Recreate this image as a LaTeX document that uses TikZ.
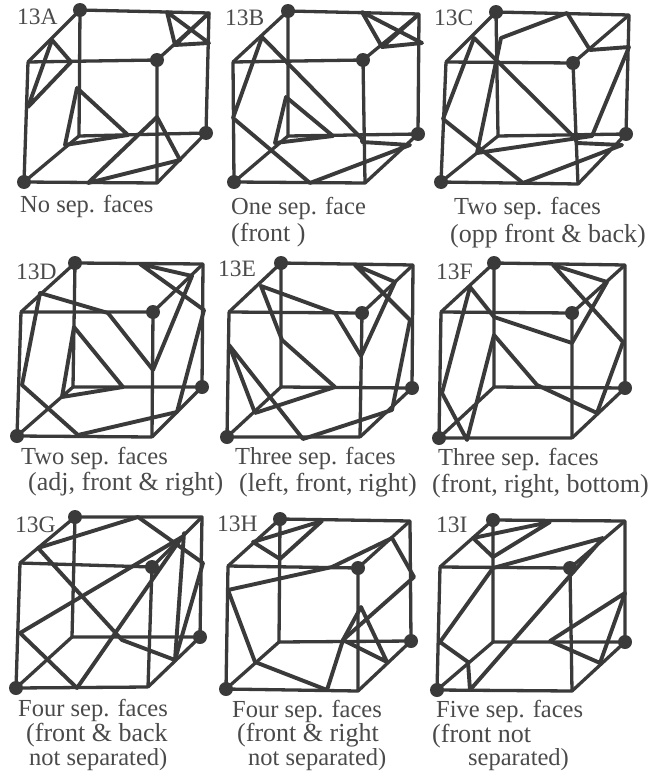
\documentclass[tikz,border=0pt]{standalone}
\usepackage{fontspec}
\setmainfont{Liberation Serif}
\usepackage{xcolor}
\usepackage{tikz}
\definecolor{ink}{HTML}{3A3A3A}
\definecolor{printtext}{HTML}{4A4A4A}
% back top left, back top right, front top left, front top right,
% back bottom left, back bottom right, front bottom left, front bottom right
\newcommand{\cubeframe}[8]{%
  \draw[frameline] (#1) -- (#2) -- (#6) -- (#5) -- cycle;
  \draw[frameline] (#3) -- (#4) -- (#8) -- (#7) -- cycle;
  \draw[frameline] (#1) -- (#3);
  \draw[frameline] (#2) -- (#4);
  \draw[frameline] (#5) -- (#7);
  \draw[frameline] (#6) -- (#8);
  \fill[ink] (#1) circle (7);
  \fill[ink] (#4) circle (7);
  \fill[ink] (#6) circle (7);
  \fill[ink] (#7) circle (7);
}
\begin{document}
\begin{tikzpicture}[
  x=1pt,y=-1pt,
  text=printtext,
  frameline/.style={draw=ink,line width=3.3pt,line join=round},
  facet/.style={draw=ink,line width=3.9pt,line join=round,line cap=round},
  lab/.style={anchor=base west,inner sep=0pt,font=\fontsize{23.5}{26}\selectfont},
  capt/.style={lab,font=\fontsize{24.5}{26}\selectfont},
  subcapt/.style={lab,font=\fontsize{26}{28}\selectfont}
]
\useasboundingbox (0,0) rectangle (666,771);

% 13A
\cubeframe{80,10}{209,13}{28,62}{157,60}{79,136}{206,133}{24,182}{157,183}
\draw[facet] (52,40) -- (71,62) -- (28,107) -- cycle;
\draw[facet] (209,13) -- (175,45) -- (167,12) -- (209,43) -- (175,45);
\draw[facet] (77,88) -- (65,145) -- (128,135) -- cycle;
\draw[facet] (157,117) -- (88,183) -- (180,160) -- cycle;
\node[lab] (nameA) at (17,24) {13A};
\node[capt] (capA) at (20,212) {No sep. faces};

% 13B
\cubeframe{288,11}{419,14}{233,62}{363,60}{288,136}{418,134}{234,182}{365,183}
\draw[facet] (262,37) -- (233,118) -- (310,183) -- (410,145) -- (362,142) -- (362,139) -- cycle;
\draw[facet] (286,97) -- (275,143) -- (333,136) -- cycle;
\draw[facet] (418,15) -- (382,47) -- (362,12) -- (422,43) -- (382,47);
\node[lab] (nameB) at (225,25) {13B};
\node[capt] (capB) at (231,214) {One sep. face};
\node[subcapt] (subB) at (231,241) {(front )};

% 13C
\cubeframe{496,12}{629,15}{446,62}{573,63}{498,136}{626,134}{441,182}{578,184}
\draw[facet] (474,38) -- (443,119) -- (523,183) -- (622,145) -- (577,143) -- (575,138) -- cycle;
\draw[facet] (501,38) -- (567,13) -- (590,50) -- (629,47) -- (592,136) -- (477,153) -- cycle;
\node[lab] (nameC) at (434,25) {13C};
\node[capt] (capC) at (454,214) {Two sep. faces};
\node[subcapt] (subC) at (450,242) {(opp front \& back)};

% 13D
\cubeframe{75,263}{203,264}{21,312}{153,312}{73,387}{202,387}{17,436}{152,437}
\draw[facet] (40,293) -- (22,385) -- (78,435) -- (177,412) -- (204,310) -- (140,264) -- (192,276) -- (153,370) -- (108,313) -- cycle;
\draw[facet] (74,327) -- (62,397) -- (123,387) -- cycle;
\node[lab] (nameD) at (16,279) {13D};
\node[capt] (capD) at (21,464) {Two sep. faces};
\node[subcapt] (subD) at (28,490) {(adj, front \& right)};

% 13E
\cubeframe{281,263}{413,265}{229,312}{362,313}{281,387}{412,388}{227,437}{360,437}
\draw[facet] (261,286) -- (282,340) -- (335,387) -- (255,413) -- (229,345) -- (303,439) -- (392,410) -- (410,320) -- (355,265) -- (395,282) -- (361,356) -- (335,313) -- cycle;
\node[lab] (nameE) at (218,276) {13E};
\node[capt] (capE) at (235,464) {Three sep. faces};
\node[subcapt] (subE) at (239,491) {(left, front, right)};

% 13F
\cubeframe{494,263}{625,265}{441,312}{572,313}{494,387}{625,388}{439,438}{572,438}
\draw[facet] (470,287) -- (442,393) -- (467,440) -- (494,335) -- (537,385) -- (597,413) -- (623,342) -- (553,265) -- (607,282) -- (572,343) -- (494,317) -- cycle;
\node[lab] (nameF) at (436,279) {13F};
\node[capt] (capF) at (438,465) {Three sep. faces};
\node[subcapt] (subF) at (432,492) {(front, right, bottom)};

% 13G
\cubeframe{75,517}{202,517}{20,563}{152,567}{72,637}{200,637}{16,688}{148,687}
\draw[facet] (38,548) -- (138,517) -- (203,563) -- (175,660) -- (122,640) -- cycle;
\draw[facet] (20,633) -- (182,537) -- (77,688) -- cycle;
\draw[facet] (175,660) -- (184,533);
\node[lab] (nameG) at (15,532) {13G};
\node[capt] (capG) at (18,716) {Four sep. faces};
\node[subcapt] (subG) at (26,741) {(front \& back};
\node[capt] (restG) at (29,765.5) {not separated)};

% 13H
\cubeframe{280,519}{410,521}{228,566}{358,568}{279,642}{411,641}{226,689}{358,691}
\draw[facet] (253,542) -- (322,521) -- (280,559) -- cycle;
\draw[facet] (228,590) -- (332,567) -- (392,538) -- (414,577) -- (343,640) -- (327,690) -- (255,662) -- cycle;
\draw[facet] (343,640) -- (361,607) -- (387,662) -- cycle;
\node[lab] (nameH) at (217,531) {13H};
\node[capt] (capH) at (232,717) {Four sep. faces};
\node[subcapt] (subH) at (237,741) {(front \& right};
\node[capt] (restH) at (248,765.5) {not separated)};

% 13I
\cubeframe{493,520}{625,521}{440,567}{570,568}{493,642}{625,642}{437,690}{572,691}
\draw[facet] (473,538) -- (550,522) -- (493,557) -- cycle;
\draw[facet] (440,642) -- (493,568) -- (603,538) -- (470,690) -- (468,662) -- cycle;
\draw[facet] (550,641) -- (625,593) -- (600,663) -- cycle;
\node[lab] (nameI) at (436,532) {13I};
\node[capt] (capI) at (436,717) {Five sep. faces};
\node[subcapt] (subI) at (432,742) {(front not};
\node[capt] (restI) at (468,765.5) {separated)};
\end{tikzpicture}
\end{document}
